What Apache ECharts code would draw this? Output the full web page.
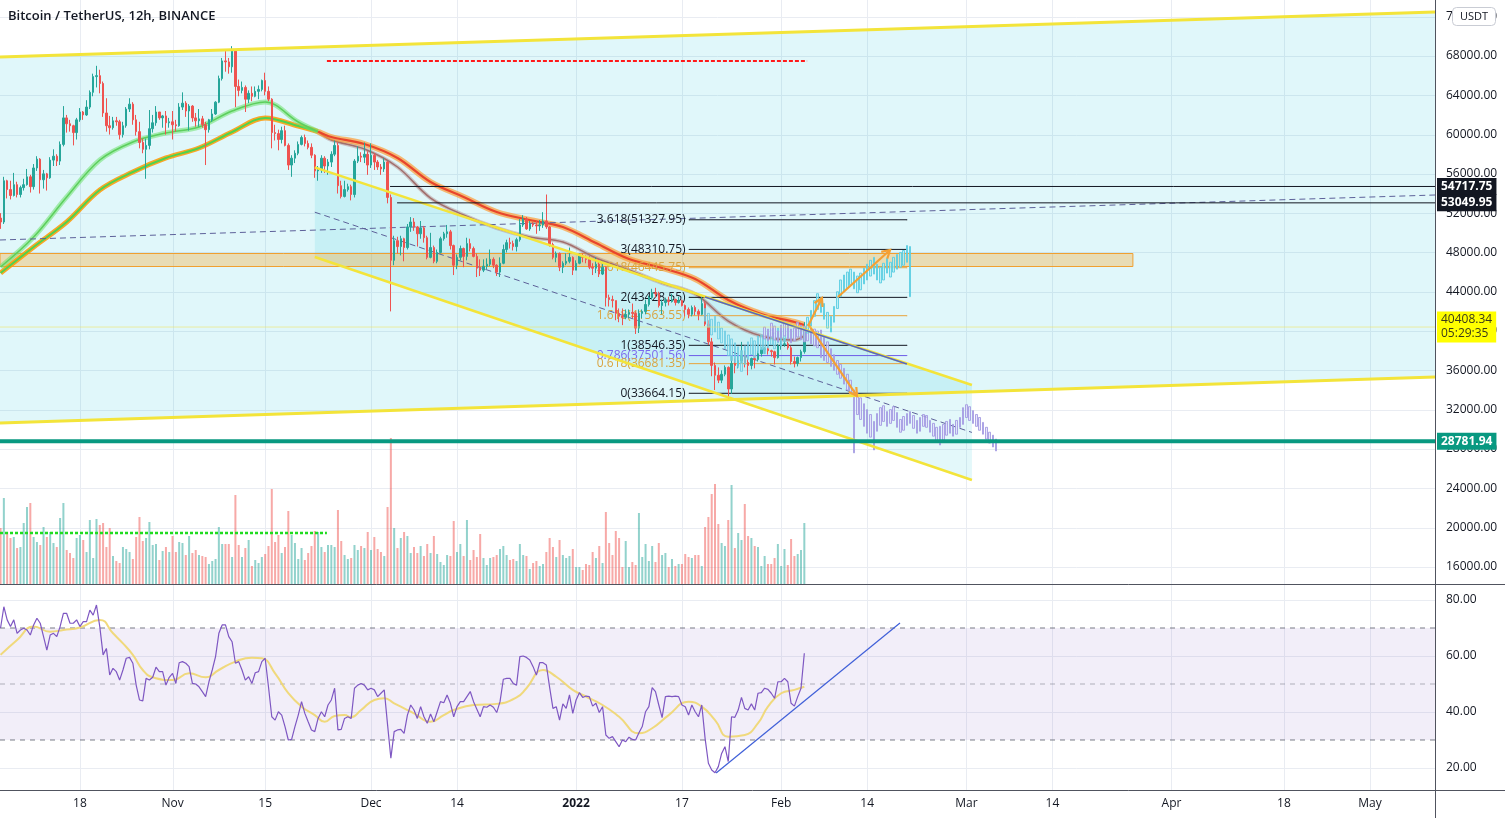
<!DOCTYPE html>
<html><head><meta charset="utf-8">
<script src="https://cdn.jsdelivr.net/npm/echarts@6/dist/echarts.min.js"></script>
<style>html,body{margin:0;padding:0;background:#fff}#c{width:1505px;height:818px}</style>
</head><body><div id="c"></div>
<script>
// ---------- axis extents / ticks ----------
const axisStart = '2021-10-05T22:00:00Z';
const axisEnd = '2022-05-10T20:00:00Z';
const candleStart = '2021-10-06T00:00:00Z';
const xTickDates = ['2021-10-18','2021-11-01','2021-11-15','2021-12-01','2021-12-14','2022-01-01','2022-01-17','2022-02-01','2022-02-14','2022-03-01','2022-03-14','2022-04-01','2022-04-18','2022-05-01'];
const xTickLabels = ['18','Nov','15','Dec','14','2022','17','Feb','14','Mar','14','Apr','18','May'];
const priceTicks = [16000,20000,24000,28000,32000,36000,40000,44000,48000,52000,56000,60000,64000,68000,72000];
const rsiTicks = [20,40,60,80];

// ---------- 12h candles BTCUSDT, thousands USDT: [open, close, low, high] ----------
const candles = [
[51.5,51.1,50.4,52.0],[51.1,55.3,50.9,55.7],[55.3,54.4,53.5,55.4],[54.4,53.8,53.4,55.3],
[53.8,54.9,53.7,56.1],[54.9,53.9,53.6,55.2],[53.9,54.6,53.6,54.8],[54.6,54.9,54.3,55.5],
[54.9,55.7,54.8,56.5],[55.7,54.7,54.1,55.9],[54.7,56.6,54.4,57.0],[56.6,57.5,56.3,57.8],
[57.5,55.4,54.0,57.6],[55.4,56.0,54.5,56.4],[56.0,55.6,54.3,56.1],[55.6,57.4,55.5,57.7],
[57.4,57.8,56.8,58.5],[57.8,57.3,56.8,58.0],[57.3,59.0,56.9,59.3],[59.0,61.7,58.8,62.9],
[61.7,61.1,60.2,62.0],[61.1,60.9,60.3,61.5],[60.9,60.2,58.9,61.0],[60.2,61.5,59.5,61.7],
[61.5,62.3,61.3,62.7],[62.3,62.0,61.5,62.4],[62.0,62.8,61.9,63.5],[62.8,64.3,62.6,64.5],
[64.3,65.9,63.9,66.2],[65.9,66.0,64.8,67.0],[66.0,65.2,64.2,66.6],[65.2,62.2,61.8,65.4],
[62.2,60.9,60.3,63.7],[60.9,60.7,60.0,61.9],[60.7,61.4,60.5,61.8],[61.4,61.3,60.9,61.8],
[61.3,60.0,59.5,61.5],[60.0,60.9,59.7,61.3],[60.9,62.6,60.7,62.8],[62.6,63.1,62.3,63.7],
[63.1,61.5,61.0,63.3],[61.5,60.3,59.9,62.0],[60.3,59.2,58.6,61.3],[59.2,58.5,58.1,59.6],
[58.5,58.9,55.5,59.6],[58.9,60.6,58.5,62.5],[60.6,61.2,60.2,62.0],[61.2,62.3,60.9,62.9],
[62.3,61.7,61.5,62.3],[61.7,61.9,60.7,62.0],[61.9,61.2,60.0,62.4],[61.2,61.3,60.7,61.7],
[61.3,61.0,59.5,62.4],[61.0,60.9,60.3,61.5],[60.9,62.8,60.8,63.2],[62.8,63.2,62.5,64.3],
[63.2,62.4,61.8,63.4],[62.4,62.9,60.4,63.1],[62.9,61.7,61.3,63.0],[61.7,61.4,60.8,62.2],
[61.4,61.6,60.8,62.6],[61.6,61.0,60.7,61.9],[61.0,60.5,56.9,61.3],[60.5,61.5,60.2,61.6],
[61.5,62.1,61.3,62.6],[62.1,63.3,62.0,63.4],[63.3,65.7,63.2,66.0],[65.7,67.5,65.5,67.8],
[67.5,67.4,66.4,68.5],[67.4,66.9,66.2,67.8],[66.9,68.5,66.3,69.0],[68.5,64.9,62.8,68.7],
[64.9,64.5,63.9,65.6],[64.5,64.8,64.2,65.4],[64.8,63.6,62.3,65.0],[63.6,64.2,63.2,64.5],
[64.2,63.9,63.4,64.9],[63.9,64.4,63.8,64.9],[64.4,64.6,63.6,65.0],[64.6,65.5,64.4,65.6],
[65.5,64.4,64.0,66.3],[64.4,63.6,63.4,64.9],[63.6,60.2,58.6,63.7],[60.2,60.1,59.4,61.0],
[60.1,59.5,58.4,60.5],[59.5,60.4,59.1,60.8],[60.4,58.9,58.8,60.9],[58.9,56.9,56.4,59.1],
[56.9,57.6,55.7,57.9],[57.6,58.1,57.1,58.4],[58.1,59.0,57.9,59.3],[59.0,59.7,58.9,59.9],
[59.7,59.1,58.8,60.0],[59.1,58.7,58.5,59.4],[58.7,57.9,57.6,59.1],[57.9,56.3,55.6,58.0],
[56.3,56.4,55.3,56.8],[56.4,57.6,56.1,57.9],[57.6,56.8,56.1,57.8],[56.8,57.2,55.9,57.5],
[57.2,58.0,56.7,58.3],[58.0,58.9,57.8,59.4],[58.9,54.8,54.0,59.2],[54.8,53.7,53.5,55.3],
[53.7,54.4,53.6,55.3],[54.4,54.7,54.2,55.0],[54.7,53.9,53.3,54.9],[53.9,57.3,53.6,57.5],
[57.3,57.8,57.1,58.8],[57.8,57.7,57.2,58.2],[57.7,58.0,57.1,59.2],[58.0,56.9,55.9,58.3],
[56.9,57.9,56.6,59.1],[57.9,57.2,56.4,58.1],[57.2,56.7,56.4,57.4],[56.7,56.5,55.9,57.0],
[56.5,57.2,56.2,57.6],[57.2,53.6,53.0,57.3],[53.6,47.2,42.0,53.9],[47.2,49.2,46.7,49.7],
[49.2,48.6,47.9,49.6],[48.6,49.4,47.7,49.7],[49.4,48.5,47.1,49.5],[48.5,50.6,48.3,50.9],
[50.6,51.1,50.1,51.6],[51.1,50.6,50.2,51.5],[50.6,49.9,48.6,50.7],[49.9,50.5,49.4,51.2],
[50.5,49.5,49.0,50.7],[49.5,47.5,47.3,49.7],[47.5,48.5,47.4,50.0],[48.5,47.1,46.9,48.7],
[47.1,48.0,46.9,48.3],[48.0,49.4,47.9,49.6],[49.4,49.9,49.2,50.1],[49.9,50.1,49.5,50.8],
[50.1,48.7,48.3,50.3],[48.7,46.7,45.7,48.8],[46.7,47.5,46.3,47.8],[47.5,48.4,47.2,48.7],
[48.4,47.6,46.5,48.5],[47.6,48.9,47.2,49.5],[48.9,48.4,48.1,49.4],[48.4,47.6,47.5,48.6],
[47.6,46.4,45.5,47.9],[46.4,46.2,45.6,47.3],[46.2,46.6,46.0,47.3],[46.6,46.8,46.3,47.4],
[46.8,47.3,46.6,48.3],[47.3,46.7,46.4,47.5],[46.7,46.0,45.6,46.8],[46.0,46.9,45.5,47.5],
[46.9,48.3,46.8,48.8],[48.3,49.0,48.0,49.3],[49.0,48.9,48.4,49.5],[48.9,48.6,48.2,49.2],
[48.6,49.3,48.1,49.5],[49.3,50.8,49.1,51.4],[50.8,51.4,50.6,51.8],[51.4,50.4,50.3,51.6],
[50.4,50.9,50.2,51.2],[50.9,50.8,50.6,51.1],[50.8,50.7,49.9,51.2],[50.7,50.8,50.2,51.3],
[50.8,51.2,50.5,52.1],[51.2,50.6,50.4,53.9],[50.6,48.8,48.6,50.7],[48.8,47.5,47.3,49.0],
[47.5,47.9,47.0,48.1],[47.9,46.5,46.1,48.0],[46.5,46.9,45.9,47.1],[46.9,47.1,46.7,47.9],
[47.1,47.5,46.9,48.5],[47.5,46.2,45.7,47.6],[46.2,46.9,46.2,47.2],[46.9,47.7,46.8,47.9],
[47.7,47.5,47.0,47.9],[47.5,47.3,46.9,47.7],[47.3,46.5,46.3,47.6],[46.5,46.4,45.7,46.9],
[46.4,46.8,45.9,47.5],[46.8,45.8,45.5,47.3],[45.8,46.5,45.7,47.1],[46.5,43.4,42.5,46.6],
[43.4,43.2,42.5,43.7],[43.2,43.1,42.4,43.6],[43.1,41.8,41.1,43.1],[41.8,41.5,40.9,42.3],
[41.5,41.4,40.6,42.3],[41.4,41.7,41.2,42.2],[41.7,41.9,41.3,42.2],[41.9,41.8,41.3,42.8],
[41.8,40.3,39.7,42.0],[40.3,41.8,39.8,42.2],[41.8,42.0,41.3,42.2],[42.0,42.7,41.7,43.2],
[42.7,43.4,42.5,43.6],[43.4,43.9,43.2,44.3],[43.9,43.8,43.4,44.4],[43.8,42.6,42.4,44.0],
[42.6,42.9,41.7,43.2],[42.9,43.1,42.5,43.4],[43.1,43.0,42.6,43.5],[43.0,43.2,42.9,43.8],
[43.2,42.9,42.6,43.3],[42.9,43.1,42.8,43.5],[43.1,42.6,42.5,43.2],[42.6,42.2,41.5,42.7],
[42.2,41.7,41.3,42.4],[41.7,42.4,41.5,42.6],[42.4,42.0,41.6,42.6],[42.0,41.7,41.1,42.2],
[41.7,42.8,41.6,43.5],[42.8,40.7,40.5,43.0],[40.7,38.9,38.6,41.1],[38.9,36.5,35.4,39.3],
[36.5,35.5,34.0,36.8],[35.5,35.0,34.7,36.3],[35.0,35.6,34.7,36.0],[35.6,36.3,35.4,36.5],
[36.3,34.1,33.0,36.4],[34.1,36.7,33.6,37.5],[36.7,36.5,35.7,37.2],[36.5,37.0,36.2,37.5],
[37.0,37.5,36.7,38.9],[37.5,36.8,36.3,38.0],[36.8,36.5,35.5,37.2],[36.5,37.2,36.1,37.3],
[37.2,37.1,36.2,37.5],[37.1,37.7,36.9,38.0],[37.7,38.1,37.4,38.4],[38.1,38.2,37.7,38.4],
[38.2,38.0,37.6,38.4],[38.0,37.9,37.4,38.1],[37.9,37.3,36.6,38.0],[37.3,38.5,37.2,38.7],
[38.5,38.6,38.1,39.0],[38.6,38.7,38.4,39.3],[38.7,38.3,38.1,38.9],[38.3,36.9,36.6,38.5],
[36.9,36.7,36.3,37.4],[36.7,37.3,36.4,37.4],[37.3,37.9,36.9,38.1],[37.9,40.4,37.7,40.9]
];

// ---------- volume per candle (relative units) ----------
const volumes = [
56,86,52,46,47,36,37,61,77,81, 47,42,39,57,47,52,41,37,66,81,
34,31,26,46,49,44,32,64,26,65, 59,61,37,56,28,23,21,37,35,32,
25,47,67,43,46,62,39,40,24,33, 37,32,48,32,42,41,29,48,31,34,
29,28,27,20,23,25,57,40,40,40, 27,89,39,27,36,44,18,24,21,27,
30,38,95,42,49,31,37,73,49,41, 25,36,24,31,38,53,52,37,32,39,
39,37,74,43,29,25,26,39,34,38, 36,52,34,47,35,32,28,77,146,56,
36,46,52,48,
31,37,31,38,28,40,31,48,30,22, 19,29,28,63,32,40,28,64,24,34,
27,50,26,19,26,27,29,35,38,29, 24,25,23,40,29,28,15,21,23,18,
20,32,46,37,27,44,29,26,28,35, 17,17,14,20,19,32,26,38,21,72,
41,29,53,46,17,43,17,22,19,71, 27,40,23,38,22,41,29,31,17,25,
18,20,20,30,27,26,29,29,18,57, 67,90,100,60,41,38,64,99,36,51,
44,80,48,46,38,37,18,28,20,20, 26,40,18,35,19,45,28,30,34,61
];

// ---------- RSI(14) per candle ----------
const rsiValues = [
70,77.6,72.9,70.5,72.9,68.1,69.3,69.9,69.3,67.5, 71.1,73.5,71.7,66.9,62.1,67.5,68.1,66.9,70.5,75.2,
75.2,71.7,71.7,72.9,70.5,72.3,72.3,76.4,74.6,78.2, 70.5,60.4,62.7,53.2,55.6,54.4,51.4,55,59.2,59.5,
57.4,49.6,44.3,44,52,51.4,52.4,56,54.4,54.4, 49.6,52.4,53.8,50.2,57.6,58,57.4,56.2,50.2,50,
49,47.3,45.5,50.8,55,59.8,68.1,71.1,71.1,66.9, 65.1,57.4,58,55,51.4,52.6,50.2,54,54.4,58,
59.2,49,38.3,37.1,40.1,38.9,34.8,30,30.2,34.8, 38.9,43.7,39.5,36.5,33.6,33,37.7,40.1,38.3,42.5,
44.3,48.5,33.6,33.8,37.7,38.3,37.7,48.5,49.6,50.2, 49.6,47.9,48.5,47.9,45.5,46.7,47.9,35.5,23.5,33,
33.6,33.8,32.4,38.9,
42.5,40.7,37.7,41.9,38.3,36,39.3,36.5,40.1,43.7, 43.3,46.1,43.1,38.3,41.9,43.7,43.7,45.5,47.3,43.7,
41,38.3,41.9,41.7,42.5,41.7,39.8,43.7,51.7,52, 52,50.2,49.6,59.8,60,59.5,58.6,56.2,53.2,57.6,
57.6,56.8,48.8,41.3,41.9,37.1,42.9,41.3,46.1,39.5, 44.3,46.9,45.2,45.7,45.5,42.1,43.1,39.8,41.9,31.8,
30.6,31.2,29.4,27.6,30,29.4,31,30.2,30,32.6, 34.8,40.1,41.9,48.7,47.3,42.5,38,45.5,45.7,45.5,
45.7,45.5,42.5,41.9,38.9,42.5,40.1,38.3,42.5,30.6, 21.7,19.3,18.3,20.5,25.2,27.6,22.3,38.3,38.1,40.7,
45.2,41.3,40.7,42.9,40.7,46.7,46.9,48.5,48.1,46.7, 44.9,50.8,50.8,52,50.8,43.1,42.1,45.5,48.5,61
];
// RSI moving average read at candle indexes: [candleIndex, value]
const rsiMa = [
[0,60.4],[5,65.7],[10,70.5],[15,68.7],[19,69.3],[24,70.2],[30,72.9],[34,68.1],[37,64.5],[40,60.4],
[43,55.0],[46,52.4],[52,51.4],[57,53.8],[62,52.4],[66,55.0],[71,58.0],[76,59.4],[79,59.2],[83,53.8],
[87,46.7],[91,41.9],[95,38.9],[98,36.5],[101,38.6],[104,38.9],[106,38.1],[109,40.7],[113,44.3],[116,44.9],
[119,43.1],[123,40.7],[125,39.5],[130,36.5],[134,38.9],[137,40.7],[143,42.5],[150,42.9],[156,45.2],[159,48.5],
[164,55.0],[168,52.6],[173,47.9],[177,45.5],[182,42.5],[187,38.3],[193,32.4],[197,34.2],[202,38.9],[208,43.7],
[212,41.9],[216,37.1],[220,31.2],[225,31.8],[229,36.0],[232,41.9],[236,46.7],[240,47.9],[243,49.0]
];

// ---------- EMA ribbon (thousands) ----------
const ribbonDates = ['2021-10-06','2021-10-11','2021-10-16','2021-10-21','2021-10-26','2021-10-31','2021-11-05','2021-11-10','2021-11-15','2021-11-20','2021-11-23','2021-11-25','2021-11-30','2021-12-05','2021-12-10','2021-12-15','2021-12-20','2021-12-25','2021-12-30','2022-01-04','2022-01-09','2022-01-14','2022-01-19','2022-01-24','2022-01-29','2022-02-03','2022-02-04T12:00:00Z'];
const fastEma = [46.52,49.57,53.65,57.41,59.25,60.16,60.77,62.40,63.32,61.28,60.30,59.45,58.53,56.70,53.54,51.81,50.49,49.57,49.07,47.44,46.22,44.89,43.77,41.02,39.50,39.09,39.50];
const slowEma = [45.91,48.56,51.10,54.36,56.19,57.62,58.63,60.26,61.69,60.87,60.30,59.75,59.04,57.62,55.17,53.65,52.12,51.30,50.59,48.96,47.33,46.42,45.30,43.16,41.74,40.92,40.62];
const ribbonSplit = 10; // index where the ribbon turns from green to red

// ---------- projected "bars pattern" ghosts: [low, high] in thousands ----------
const ghostCyanAStart = '2022-01-20T12:00:00Z';
const ghostCyanA = [[41.0,42.3],[40.4,41.8],[39.6,41.2],[39.9,41.5],[39.2,40.9],[38.8,40.3],[38.2,40.0],[37.5,39.6],[37.0,39.2],[36.8,38.8],[36.3,38.4],[35.9,38.0],[36.6,38.5],[37.1,38.9],[37.6,39.3],[37.3,39.0],[37.8,39.5],[38.1,39.6],[37.7,39.3],[38.3,39.8],[38.6,40.1],[38.2,39.8],[38.8,40.3],[38.5,40.0],[38.9,40.4]];
const ghostPurpleStart = '2022-01-29T12:00:00Z';
const ghostPurple = [[39.2,40.4],[39.0,40.2],[39.4,40.8],[39.1,40.5],[38.9,40.0],[39.3,40.6],[39.5,41.0],[39.2,40.7],[38.8,40.2],[39.0,40.3],[39.4,40.9],[39.1,40.6],[38.9,40.5],
[39.0,40.6],[38.7,40.3],[38.5,40.2],[38.3,40.0],
[37.3,40.1],[37.0,39.5],[36.8,38.9],[36.4,38.2],[36.0,37.6],[35.6,37.0],[35.2,36.6],[34.6,36.2],[34.0,35.6],[33.5,35.0],[27.6,34.0],[31.5,33.6],[31.0,33.2],[30.3,32.6],[29.6,32.0],[29.2,31.5],[27.9,30.8],[29.8,31.6],[30.4,32.2],[30.8,32.4],[30.3,31.8],[30.6,32.0],[30.9,32.3],[30.2,31.7],[29.7,31.0],[29.9,31.3],[30.4,31.6],[30.6,31.8],[30.1,31.4],[29.6,30.9],[29.8,31.2],[30.3,31.5],[30.2,31.4],[29.7,30.9],[29.3,30.6],[28.8,30.2],[28.4,30.3],[28.9,30.5],[29.4,30.8],[29.6,31.0],[29.3,30.5],[29.5,30.9],[30.2,31.2],[30.5,32.2],[31.2,32.5],[30.9,32.3],[30.6,31.9],[30.3,31.5],[29.9,31.2],[29.5,30.7],[29.0,30.2],[28.6,29.7],[28.2,29.4],[27.8,29.0]];
const ghostCyanBStart = '2022-02-05T00:00:00Z';
const ghostCyanB = [[39.8,41.4],[40.5,42.1],[41.5,43.1],[42.2,43.8],[41.9,43.4],[41.2,42.8],[40.3,41.9],[39.9,41.5],[40.9,42.5],[42.3,44.0],[43.5,45.2],[44.0,45.7],[44.4,46.0],[44.7,46.3],[44.3,46.0],[43.9,45.6],[44.2,45.9],[44.8,46.4],[45.2,46.8],[45.6,47.2],[45.8,47.5],[45.2,46.8],[44.9,46.5],[45.2,46.9],[45.9,47.4],[45.5,47.0],[46.0,47.5],[46.3,47.8],[46.5,48.0],[46.7,48.2],[47.0,48.7],[43.5,48.6]];

// ---------- drawings (date, price) ----------
const bigChannelTop = [[axisStart, 67900], [axisEnd, 72480]];
const bigChannelBottom = [[axisStart, 30640], [axisEnd, 35320]];
const descTop = [['2021-11-22T12:00:00Z', 56660], ['2022-03-01T20:00:00Z', 34510]];
const descMid = [['2021-11-22T12:00:00Z', 52100], ['2022-03-01T20:00:00Z', 29680]];
const descBottom = [['2021-11-22T12:00:00Z', 47540], ['2022-03-01T20:00:00Z', 24840]];
const longDashed = [[axisStart, 49270], [axisEnd, 53850]];
const navyTrend = [['2022-01-20T12:00:00Z', 43470], ['2022-02-20T00:00:00Z', 36650]];
const zoneTimes = [axisStart, '2022-03-26T04:00:00Z'];
const zonePrices = [46620, 47940];
const arrowLines = [
  ['2022-02-05T01:30:00Z', 40510, '2022-02-07T04:00:00Z', 43360],
  ['2022-02-09T14:00:00Z', 43470, '2022-02-17T11:00:00Z', 48250],
  ['2022-02-05T01:30:00Z', 40720, '2022-02-12T11:00:00Z', 33390]
];
const redDashed = [['2021-11-24T08:00:00Z', 67500], ['2022-02-04T22:00:00Z', 67500]];
const volumeMarker = [[axisStart, 51], ['2021-11-24T08:00:00Z', 51]];
const fibSpan = ['2022-01-18T02:00:00Z', '2022-02-20T00:00:00Z'];
const fibRatios = ['3.618','3','2.618','2','1.618','1','0.786','0.618','0'];
const fibPrices = [51327.95, 48310.75, 46445.75, 43428.55, 41563.55, 38546.35, 37501.56, 36681.35, 33664.15];
const fibKinds = ['k','k','o','k','o','k','p','o','k'];
const levelPrices = [54717.75, 53049.95];
const levelStarts = ['2021-12-03T21:00:00Z', '2021-12-04T22:30:00Z'];
const supportPrice = 28781.94;
const lastPrice = 40408.34;
const countdown = '05:29:35';
const rsiTrend = [['2022-01-22T04:00:00Z', 18.2], ['2022-02-18T23:00:00Z', 71.8]];
const rsiBands = [70, 50, 30];

// ---------- build ----------
const FONT = "'Open Sans', 'Noto Sans', sans-serif";
const H12 = 12 * 3600 * 1000;
const T = s => Date.parse(s.length === 10 ? s + 'T00:00:00Z' : s);
const T0 = T(axisStart), T1 = T(axisEnd), C0 = T(candleStart);
const xTickTimes = xTickDates.map(T);
const UP = '#26a69a', DOWN = '#ef5350';

const candleData = candles.map((r, i) => [C0 + i * H12, r[0] * 1000, r[1] * 1000, r[2] * 1000, r[3] * 1000]);
const volumeData = volumes.map((v, i) => ({
  value: [C0 + i * H12, v],
  itemStyle: { color: candles[i][1] >= candles[i][0] ? 'rgba(38,166,154,0.5)' : 'rgba(239,83,80,0.5)' }
}));
const ghostData = (start, arr) => arr.map((r, i) => [T(start) + i * H12, r[0] * 1000, r[1] * 1000, r[0] * 1000, r[1] * 1000]);
const pts = arr => arr.map(p => [T(p[0]), p[1]]);

function line(data, style, z, extra) {
  return Object.assign({ type: 'line', xAxisIndex: 0, yAxisIndex: 0, data: data, symbol: 'none', silent: true,
    lineStyle: style, z: z, animation: false }, extra || {});
}
function polygon(top, bottom, fill, z) {
  return { type: 'custom', xAxisIndex: 0, yAxisIndex: 0, silent: true, z: z, data: [[T(top[0][0]), top[0][1]]],
    renderItem: (p, api) => {
      const ptsArr = top.map(q => api.coord([T(q[0]), q[1]])).concat(bottom.slice().reverse().map(q => api.coord([T(q[0]), q[1]])));
      return { type: 'polygon', shape: { points: ptsArr }, style: { fill: fill } };
    } };
}

const series = [];
[0, 1].forEach(g => {
  series.push({ type: 'custom', xAxisIndex: g, yAxisIndex: g === 0 ? 0 : 2, silent: true, z: 0,
    data: xTickTimes.map(v => [v, g === 0 ? 40000 : 50]),
    renderItem: (p, api) => {
      const x = Math.round(api.coord([api.value(0), api.value(1)])[0]) + 0.5;
      const cs = p.coordSys;
      return { type: 'line', shape: { x1: x, y1: cs.y, x2: x, y2: cs.y + cs.height }, style: { stroke: '#e9ecf2', lineWidth: 1 } };
    } });
});
series.push({ type: 'custom', xAxisIndex: 0, yAxisIndex: 0, silent: true, z: 0,
  data: priceTicks.map(v => [T0, v]),
  renderItem: (p, api) => {
    const y = Math.round(api.coord([api.value(0), api.value(1)])[1]) + 0.5;
    const cs = p.coordSys;
    return { type: 'line', shape: { x1: cs.x, y1: y, x2: cs.x + cs.width, y2: y }, style: { stroke: '#e9ecf2', lineWidth: 1 } };
  } });
series.push({ type: 'custom', xAxisIndex: 1, yAxisIndex: 2, silent: true, z: 0,
  data: rsiTicks.map(v => [T0, v]),
  renderItem: (p, api) => {
    const y = Math.round(api.coord([api.value(0), api.value(1)])[1]) + 0.5;
    const cs = p.coordSys;
    return { type: 'line', shape: { x1: cs.x, y1: y, x2: cs.x + cs.width, y2: y }, style: { stroke: '#e9ecf2', lineWidth: 1 } };
  } });

series.push(polygon(bigChannelTop, bigChannelBottom, 'rgba(0,188,212,0.12)', 1));
series.push(polygon(descTop, descBottom, 'rgba(0,188,212,0.11)', 1));
series.push({ type: 'custom', xAxisIndex: 0, yAxisIndex: 0, silent: true, z: 1, data: [[T(zoneTimes[0]), zonePrices[0]]],
  renderItem: (p, api) => {
    const a = api.coord([T(zoneTimes[0]), zonePrices[1]]), b = api.coord([T(zoneTimes[1]), zonePrices[0]]);
    return { type: 'rect', shape: { x: a[0], y: Math.round(a[1]) + 0.5, width: b[0] - a[0], height: Math.round(b[1] - a[1]) },
      style: { fill: 'rgba(255,152,0,0.28)', stroke: '#f0a030', lineWidth: 1 } };
  } });

series.push({ type: 'bar', xAxisIndex: 0, yAxisIndex: 1, data: volumeData, barWidth: 2, silent: true, z: 2, animation: false });
series.push(line(pts(volumeMarker), { color: '#1fdc1f', width: 2.5, type: [3, 2] }, 3, { yAxisIndex: 1 }));

const rT = ribbonDates.map(T);
const rBase = rT.map((t, i) => [t, Math.min(fastEma[i], slowEma[i]) * 1000]);
const rBand = rT.map((t, i) => [t, Math.abs(fastEma[i] - slowEma[i]) * 1000]);
series.push(line(rBase, { opacity: 0 }, 2, { stack: 'rib', smooth: 0.35 }));
series.push(line(rBand, { opacity: 0 }, 2, { stack: 'rib', smooth: 0.35, areaStyle: { color: 'rgba(110,110,125,0.30)' } }));
const seg = (arr, a, b) => rT.slice(a, b).map((t, k) => [t, arr[a + k] * 1000]);
const gFast = seg(fastEma, 0, ribbonSplit + 1), gSlow = seg(slowEma, 0, ribbonSplit + 1);
const rFast = seg(fastEma, ribbonSplit, rT.length), rSlow = seg(slowEma, ribbonSplit, rT.length);
series.push(line(gSlow, { color: 'rgba(255,152,0,0.85)', width: 5 }, 3, { smooth: 0.35 }));
series.push(line(gSlow, { color: '#4fd34f', width: 2 }, 3, { smooth: 0.35 }));
series.push(line(gFast, { color: 'rgba(110,225,110,0.55)', width: 5 }, 3, { smooth: 0.35 }));
series.push(line(gFast, { color: '#5ccf5c', width: 1.5 }, 3, { smooth: 0.35 }));
series.push(line(rFast, { color: 'rgba(170,120,120,0.4)', width: 4 }, 3, { smooth: 0.35 }));
series.push(line(rFast, { color: '#a26f6d', width: 1.5 }, 3, { smooth: 0.35 }));
series.push(line(rSlow, { color: 'rgba(255,150,40,0.65)', width: 6 }, 3, { smooth: 0.35 }));
series.push(line(rSlow, { color: '#e8452c', width: 2.2 }, 3, { smooth: 0.35 }));

series.push(line(pts(longDashed), { color: '#5d6199', width: 1, type: [6, 4] }, 3));
series.push(line(pts(descMid), { color: '#5d6199', width: 1, type: [6, 4] }, 3));

const fibColors = { k: '#131722', o: '#e8a33c', p: '#6c5ce7' };
const fibLabelColors = { k: '#131722', o: '#d9a441', p: '#7b68ee' };
fibPrices.forEach((p, i) => {
  const c = fibColors[fibKinds[i]];
  series.push({ type: 'line', xAxisIndex: 0, yAxisIndex: 0, silent: true, z: 3, animation: false,
    symbol: 'circle', symbolSize: 1, showSymbol: true, itemStyle: { color: c },
    lineStyle: { color: c, width: 1 },
    data: [
      { value: [T(fibSpan[0]), p], label: { show: true, position: 'left', distance: 3,
        formatter: fibRatios[i] + '(' + p.toFixed(2) + ')', color: fibLabelColors[fibKinds[i]], fontSize: 12, fontFamily: FONT } },
      { value: [T(fibSpan[1]), p] }
    ] });
});

series.push({ type: 'candlestick', xAxisIndex: 0, yAxisIndex: 0, data: candleData, barWidth: 2, silent: true, z: 4, animation: false,
  itemStyle: { color: UP, color0: DOWN, borderColor: UP, borderColor0: DOWN, borderWidth: 1 } });

const ghostStyle = (fill, border) => ({ color: fill, color0: fill, borderColor: border, borderColor0: border, borderWidth: 1 });
series.push({ type: 'candlestick', xAxisIndex: 0, yAxisIndex: 0, data: ghostData(ghostCyanAStart, ghostCyanA), barWidth: 2, silent: true, z: 5, animation: false,
  itemStyle: ghostStyle('rgba(178,235,242,0.55)', 'rgba(100,200,225,0.75)') });
series.push({ type: 'candlestick', xAxisIndex: 0, yAxisIndex: 0, data: ghostData(ghostPurpleStart, ghostPurple), barWidth: 2, silent: true, z: 5, animation: false,
  itemStyle: ghostStyle('rgba(225,220,250,0.7)', 'rgba(160,150,225,0.85)') });
series.push({ type: 'candlestick', xAxisIndex: 0, yAxisIndex: 0, data: ghostData(ghostCyanBStart, ghostCyanB), barWidth: 2, silent: true, z: 5, animation: false,
  itemStyle: ghostStyle('rgba(178,235,242,0.7)', 'rgba(90,205,225,0.9)') });

series.push(line(pts(bigChannelTop), { color: '#f3e43a', width: 3 }, 6));
series.push(line(pts(bigChannelBottom), { color: '#f3e43a', width: 3 }, 6));
series.push(line(pts(descTop), { color: '#f3e43a', width: 2.5 }, 6));
series.push(line(pts(descBottom), { color: '#f3e43a', width: 2.5 }, 6));
series.push(line(pts(navyTrend), { color: '#5566c4', width: 1.5 }, 6));
series.push(line(pts(redDashed), { color: '#ff1a1a', width: 2, type: [4, 2] }, 6));

series.push({ type: 'custom', xAxisIndex: 0, yAxisIndex: 0, silent: true, z: 7,
  data: arrowLines.map(a => [T(a[0]), a[1]]),
  renderItem: (p, api) => {
    const a = arrowLines[p.dataIndex];
    const p1 = api.coord([T(a[0]), a[1]]), p2 = api.coord([T(a[2]), a[3]]);
    const ang = Math.atan2(p2[1] - p1[1], p2[0] - p1[0]), L = 9, w = Math.PI / 6;
    const h1 = [p2[0] - L * Math.cos(ang - w), p2[1] - L * Math.sin(ang - w)];
    const h2 = [p2[0] - L * Math.cos(ang + w), p2[1] - L * Math.sin(ang + w)];
    const st = { stroke: '#f5a033', lineWidth: 2.2, fill: null };
    return { type: 'group', children: [
      { type: 'line', shape: { x1: p1[0], y1: p1[1], x2: p2[0], y2: p2[1] }, style: st },
      { type: 'polyline', shape: { points: [h1, p2, h2] }, style: st }
    ] };
  } });

const tag = (text, bg, fg, bold) => ({ show: true, formatter: text, distance: 2, backgroundColor: bg, color: fg,
  padding: [2, 4, 1, 4], fontSize: 12, fontFamily: FONT, fontWeight: bold ? 'bold' : 'normal', lineHeight: 14 });
levelPrices.forEach((p, i) => {
  series.push(line([[T(levelStarts[i]), p], [T1, p]], { color: '#131722', width: 1 }, 8,
    { clip: false, endLabel: tag(p.toFixed(2), '#131722', '#ffffff', true) }));
});
series.push(line([[T0, lastPrice], [T1, lastPrice]], { color: 'rgba(240,228,90,0.55)', width: 1 }, 8,
  { clip: false, endLabel: tag(lastPrice.toFixed(2) + '\n' + countdown, '#ffff00', '#3a3a1a', false) }));
series.push(line([[T0, supportPrice], [T1, supportPrice]], { color: '#089981', width: 4 }, 8,
  { clip: false, endLabel: tag(supportPrice.toFixed(2), '#089981', '#ffffff', true) }));

series.push({ type: 'custom', xAxisIndex: 1, yAxisIndex: 2, silent: true, z: 1, data: [[T0, rsiBands[0]]],
  renderItem: (p, api) => {
    const a = api.coord([T0, rsiBands[0]]), b = api.coord([T1, rsiBands[2]]);
    return { type: 'rect', shape: { x: a[0], y: a[1], width: b[0] - a[0], height: b[1] - a[1] }, style: { fill: 'rgba(126,87,194,0.1)' } };
  } });
rsiBands.forEach((v, i) => {
  series.push(line([[T0, v], [T1, v]], { color: i === 1 ? 'rgba(120,123,134,0.55)' : '#787b86', width: 1, type: [5, 5] }, 2,
    { xAxisIndex: 1, yAxisIndex: 2 }));
});
series.push(line(rsiMa.map(r => [C0 + r[0] * H12, r[1]]), { color: 'rgba(240,214,110,0.9)', width: 2 }, 3,
  { xAxisIndex: 1, yAxisIndex: 2, smooth: 0.5 }));
series.push(line(rsiValues.map((v, i) => [C0 + i * H12, v]), { color: '#7e57c2', width: 1.2 }, 4,
  { xAxisIndex: 1, yAxisIndex: 2 }));
series.push(line(pts(rsiTrend), { color: '#3f5fd8', width: 1.2 }, 5, { xAxisIndex: 1, yAxisIndex: 2 }));

const chart = echarts.init(document.getElementById('c'), null, { renderer: 'canvas' });
chart.setOption({
  animation: false,
  backgroundColor: '#ffffff',
  textStyle: { fontFamily: FONT },
  grid: [
    { left: 0, top: 0, width: 1435, height: 584 },
    { left: 0, top: 585, width: 1435, height: 205 }
  ],
  xAxis: [
    { type: 'value', gridIndex: 0, min: T0, max: T1, show: false, splitLine: { show: false } },
    { type: 'value', gridIndex: 1, min: T0, max: T1,
      axisLine: { show: false }, axisTick: { show: false }, splitLine: { show: false },
      axisLabel: { customValues: xTickTimes, margin: 8, color: '#131722', fontSize: 12, fontFamily: FONT,
        formatter: v => { const i = xTickTimes.indexOf(v); const s = i >= 0 ? xTickLabels[i] : ''; return s === '2022' ? '{b|2022}' : s; },
        rich: { b: { fontWeight: 'bold', fontSize: 12, color: '#131722', fontFamily: FONT } } } }
  ],
  yAxis: [
    { type: 'value', gridIndex: 0, position: 'right', min: 14250, max: 73700,
      axisLine: { show: false }, axisTick: { show: false }, splitLine: { show: false },
      axisLabel: { customValues: priceTicks, formatter: v => v.toFixed(2), color: '#131722', fontSize: 12, margin: 11, fontFamily: FONT } },
    { type: 'value', gridIndex: 0, min: 0, max: 584, show: false, splitLine: { show: false } },
    { type: 'value', gridIndex: 1, position: 'right', min: 12.14, max: 85.36,
      axisLine: { show: false }, axisTick: { show: false }, splitLine: { show: false },
      axisLabel: { customValues: rsiTicks, formatter: v => v.toFixed(2), color: '#131722', fontSize: 12, margin: 11, fontFamily: FONT } }
  ],
  graphic: { elements: [
    { type: 'line', z: 100, shape: { x1: 0, y1: 584.5, x2: 1505, y2: 584.5 }, style: { stroke: '#50535e', lineWidth: 1 } },
    { type: 'line', z: 100, shape: { x1: 0, y1: 790.5, x2: 1505, y2: 790.5 }, style: { stroke: '#50535e', lineWidth: 1 } },
    { type: 'line', z: 100, shape: { x1: 1435.5, y1: 0, x2: 1435.5, y2: 818 }, style: { stroke: '#50535e', lineWidth: 1 } },
    { type: 'rect', z: 100, shape: { x: 1452.5, y: 7.5, width: 43, height: 18, r: 4 }, style: { fill: '#ffffff', stroke: '#c9ccd4', lineWidth: 1 } },
    { type: 'text', z: 101, style: { x: 1474, y: 17, text: 'USDT', align: 'center', verticalAlign: 'middle', fontSize: 11, fontFamily: FONT, fill: '#131722' } },
    { type: 'text', z: 101, style: { x: 8, y: 16, text: 'Bitcoin / TetherUS, 12h, BINANCE', verticalAlign: 'middle', fontSize: 13, fontWeight: 600, fontFamily: FONT, fill: '#131722' } }
  ] },
  series: series
});
</script></body></html>
